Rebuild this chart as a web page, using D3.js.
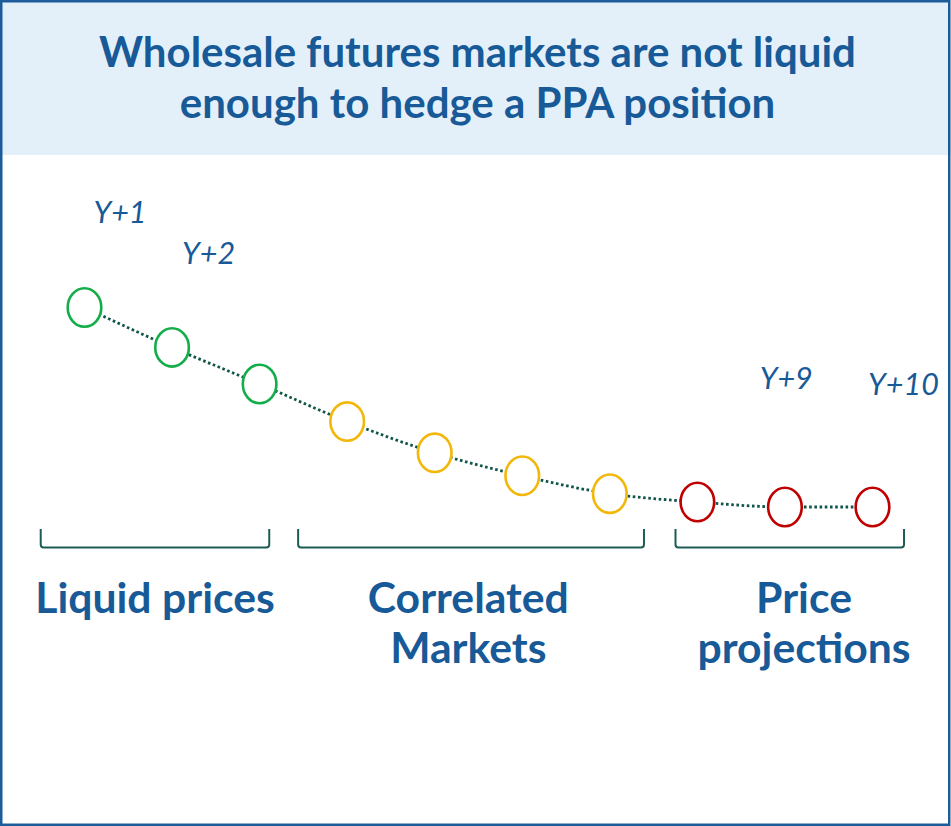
<!DOCTYPE html>
<html>
<head>
<meta charset="utf-8">
<script src="https://d3js.org/d3.v7.min.js"></script>
<style>
  body { margin: 0; background: #fff; }
  svg { display: block; }
</style>
</head>
<body>
<div id="chart"></div>
<script>
const years = ["Y+1", "Y+2", "Y+3", "Y+4", "Y+5", "Y+6", "Y+7", "Y+8", "Y+9", "Y+10"];
const prices = [100, 88, 77, 65.7, 56.3, 49.4, 44, 41.5, 40, 40];
const status = ["liquid", "liquid", "liquid", "correlated", "correlated", "correlated", "correlated",
                "projection", "projection", "projection"];

// groups shown under the curve (start / end in year units)
const groupNames = [["Liquid prices"], ["Correlated", "Markets"], ["Price", "projections"]];
const groupFrom = [0.5, 3.44, 7.75];
const groupTo = [3.11, 7.39, 10.36];
const groupCenter = [1.805, 5.384, 9.218];

// years that carry a label
const labelled = ["Y+1", "Y+2", "Y+9", "Y+10"];

const titleLines = ["Wholesale futures markets are not liquid", "enough to hedge a PPA position"];

const W = 951, H = 826;
const blue = "#175a97";
const colors = {liquid: "#13ad4a", correlated: "#f3b70a", projection: "#c00000"};

const svg = d3.select("#chart")
  .append("svg")
    .attr("width", W)
    .attr("height", H);

// title band
svg.append("rect")
  .attr("x", 0).attr("y", 0)
  .attr("width", W).attr("height", 155)
  .attr("fill", "#e3f0f9");

svg.append("g")
  .selectAll("text")
  .data(titleLines)
  .join("text")
    .attr("x", 477.5)
    .attr("y", (d, i) => 67 + i * 50.5)
    .attr("text-anchor", "middle")
    .attr("font-family", "Lato, sans-serif")
    .attr("font-weight", 700)
    .attr("font-size", 42)
    .attr("fill", blue)
    .text(d => d);

// scales
const x = d3.scaleLinear().domain([1, 10]).range([84.5, 872.5]);
const y = d3.scaleLinear().domain([40, 100]).range([507, 307.5]);

const data = years.map((d, i) => ({year: d, i: i + 1, value: prices[i], status: status[i]}));

// dotted line behind the circles
const line = d3.line()
  .x(d => x(d.i))
  .y(d => y(d.value))
  .curve(d3.curveMonotoneX);

svg.append("path")
  .datum(data)
  .attr("d", line)
  .attr("fill", "none")
  .attr("stroke", "#0f5649")
  .attr("stroke-width", 2.8)
  .attr("stroke-dasharray", "2.6,2.6");

// circles
svg.append("g")
  .selectAll("ellipse")
  .data(data)
  .join("ellipse")
    .attr("cx", d => x(d.i))
    .attr("cy", d => y(d.value))
    .attr("rx", 16.8)
    .attr("ry", 19.2)
    .attr("fill", "#fff")
    .attr("stroke", d => colors[d.status])
    .attr("stroke-width", 2.6);

// year labels (offsets from their circle)
const labelOffset = {"Y+1": [35.5, -85], "Y+2": [36.5, -83], "Y+9": [1.3, -117.7], "Y+10": [31, -112]};
svg.append("g")
  .selectAll("text")
  .data(data.filter(d => labelled.includes(d.year)))
  .join("text")
    .attr("x", d => x(d.i) + labelOffset[d.year][0])
    .attr("y", d => y(d.value) + labelOffset[d.year][1])
    .attr("text-anchor", "middle")
    .attr("font-family", "Lato, sans-serif")
    .attr("font-style", "italic")
    .attr("font-size", 30.5)
    .attr("fill", blue)
    .text(d => d.year);

// brackets
const bTop = 529, bBot = 547.5, r = 3;
svg.append("g")
  .selectAll("path")
  .data(groupNames.map((d, i) => ({x0: x(groupFrom[i]), x1: x(groupTo[i])})))
  .join("path")
    .attr("d", d => `M${d.x0},${bTop} L${d.x0},${bBot - r} Q${d.x0},${bBot} ${d.x0 + r},${bBot}
                     L${d.x1 - r},${bBot} Q${d.x1},${bBot} ${d.x1},${bBot - r} L${d.x1},${bTop}`)
    .attr("fill", "none")
    .attr("stroke", "#1d5c54")
    .attr("stroke-width", 2);

// group names
const gl = svg.append("g")
  .selectAll("text")
  .data(groupNames)
  .join("text")
    .attr("x", (d, i) => x(groupCenter[i]))
    .attr("y", 613)
    .attr("text-anchor", "middle")
    .attr("font-family", "Lato, sans-serif")
    .attr("font-weight", 700)
    .attr("font-size", 42.7)
    .attr("fill", blue);

gl.selectAll("tspan")
  .data((d, i) => d.map(t => ({t, cx: x(groupCenter[i])})))
  .join("tspan")
    .attr("x", d => d.cx)
    .attr("dy", (d, i) => i === 0 ? 0 : 49.5)
    .text(d => d.t);

// outer border
svg.append("rect")
  .attr("x", 1.25).attr("y", 1.25)
  .attr("width", 948).attr("height", 823.5)
  .attr("fill", "none")
  .attr("stroke", "#1c5c9a")
  .attr("stroke-width", 2.5);
</script>
</body>
</html>
